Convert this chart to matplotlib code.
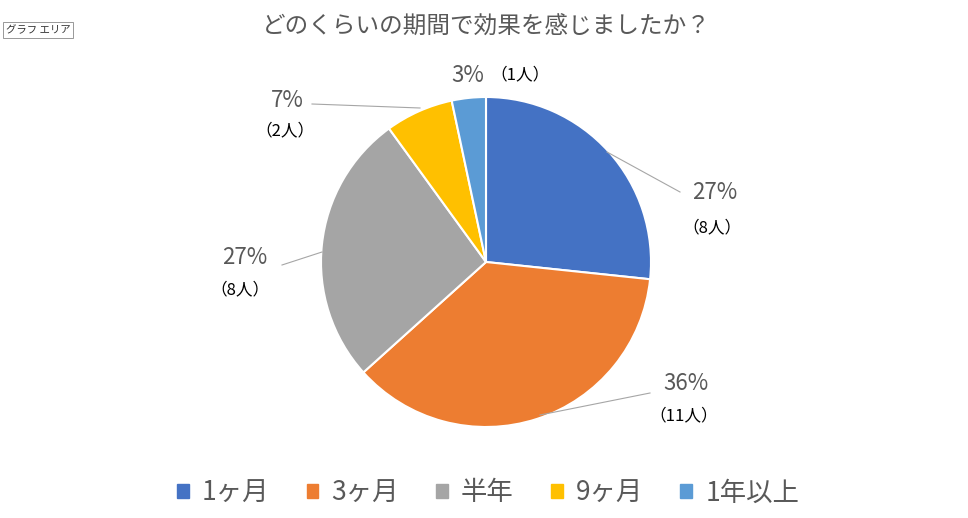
import matplotlib
matplotlib.use("Agg")
import matplotlib.pyplot as plt
from matplotlib.patches import Patch

plt.rcParams['font.family'] = 'Noto Sans CJK JP'

categories = ["1ヶ月", "3ヶ月", "半年", "9ヶ月", "1年以上"]
counts = [8, 11, 8, 2, 1]
pct_labels = ["27%", "36%", "27%", "7%", "3%"]
cnt_labels = ["（8人）", "（11人）", "（8人）", "（2人）", "（1人）"]
colors = ["#4472C4", "#ED7D31", "#A5A5A5", "#FFC000", "#5B9BD5"]

W, H = 968, 518
fig = plt.figure(figsize=(W/100, H/100), dpi=100)
cx, cy, r = 486, 262, 165
ax = fig.add_axes([(cx-r)/W, (H-cy-r)/H, 2*r/W, 2*r/H])
ax.pie(counts, colors=colors, startangle=90, counterclock=False,
       wedgeprops=dict(edgecolor="white", linewidth=1.5), radius=1)
ax.set_xlim(-1, 1); ax.set_ylim(-1, 1); ax.set_aspect('auto'); ax.axis('off')

def d(px, py):
    return ((px-cx)/r, (cy-py)/r)

lab = [
    ((715, 192), (712, 228)),
    ((686, 384), (684, 416)),
    ((245, 257), (240, 290)),
    ((287, 100), (285, 131)),
    ((468, 75), (520, 75)),
]
for i, (p, c) in enumerate(lab):
    ax.text(*d(*p), pct_labels[i], fontsize=16, color="#595959", ha="center", va="center", clip_on=False)
    ax.text(*d(*c), cnt_labels[i], fontsize=12, color="black", ha="center", va="center", clip_on=False)
for ln in [[(607, 152), (680, 192)], [(540, 415), (650, 393)], [(322, 252), (282, 265)], [(420, 108), (312, 104)]]:
    xs, ys = zip(*[d(*q) for q in ln])
    ax.plot(xs, ys, color="#A6A6A6", lw=0.8, clip_on=False)

fig.text(486/W, 1-27/H, "どのくらいの期間で効果を感じましたか？", fontsize=17, color="#595959",
         ha="center", va="center")
fig.text(6/W, 1-30/H, "グラフ エリア", fontsize=7.5, color="#333333", ha="left", va="center",
         bbox=dict(boxstyle="square,pad=0.25", fc="white", ec="#888888", lw=0.6))

handles = [Patch(color=c) for c in colors]
fig.legend(handles, categories, loc="center", bbox_to_anchor=(488/W, 1-493/H), ncol=5,
           frameon=False, fontsize=19, labelcolor="#595959", handlelength=0.45, handleheight=0.45,
           columnspacing=1.4, handletextpad=0.5)
fig.savefig("out.png", dpi=100)
